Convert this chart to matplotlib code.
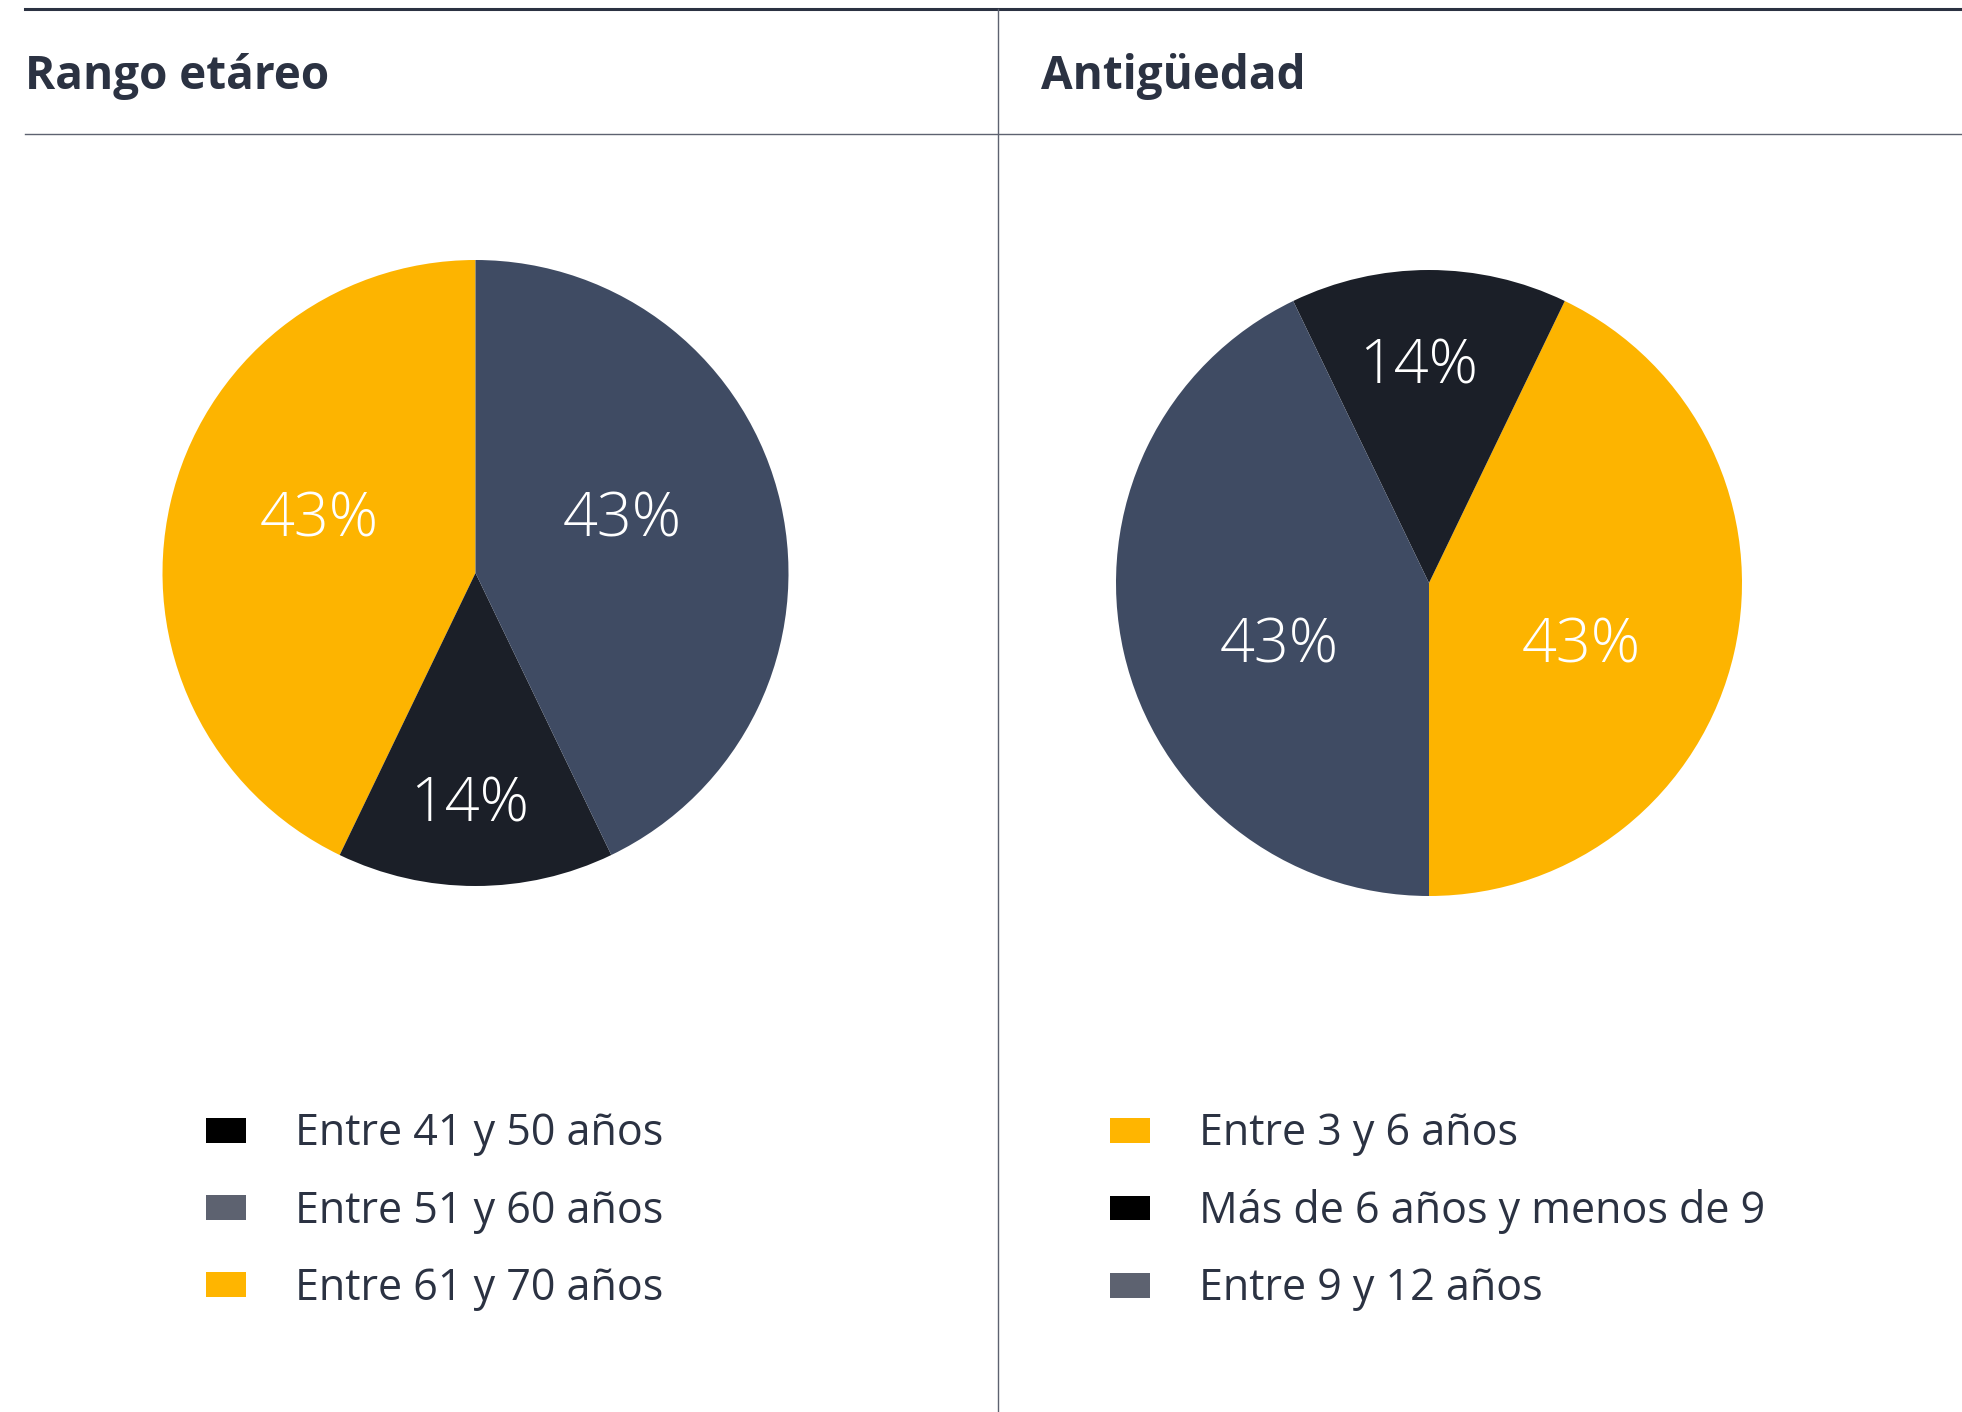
import matplotlib
matplotlib.use("Agg")
import matplotlib.pyplot as plt
from matplotlib.lines import Line2D
from matplotlib.patches import Patch

plt.rcParams['font.family'] = ['Open Sans', 'DejaVu Sans']

# region DATA
edad_labels = ["Entre 41 y 50 años", "Entre 51 y 60 años", "Entre 61 y 70 años"]
edad_counts = [1, 3, 3]
antig_labels = ["Entre 3 y 6 años", "Más de 6 años y menos de 9", "Entre 9 y 12 años"]
antig_counts = [3, 1, 3]
# endregion

# region STYLE
text_col = "#2b3242"
pie_cols = {"black": "#1b1f28", "gray": "#3f4b63", "yellow": "#fdb400"}
leg_cols = {"black": "#000000", "gray": "#5d6270", "yellow": "#ffb500"}
edad_keys = ["black", "gray", "yellow"]
antig_keys = ["yellow", "black", "gray"]
# endregion

W, H = 1962, 1412
fig = plt.figure(figsize=(W / 100, H / 100), dpi=100, facecolor="white")


def fx(px):
    return px / W


def fy(py):
    return 1 - py / H


# frame lines
fig.add_artist(Line2D([fx(25), 1], [fy(9), fy(9)], color=text_col, lw=2.2))
fig.add_artist(Line2D([fx(25), 1], [fy(134), fy(134)], color="#5d6270", lw=1.0))
fig.add_artist(Line2D([fx(998), fx(998)], [fy(9), 0], color="#5d6270", lw=1.0))

fig.text(fx(25), fy(77), "Rango etáreo", fontsize=33, fontweight="bold", color=text_col, va="center", ha="left")
fig.text(fx(1041), fy(77), "Antigüedad", fontsize=33, fontweight="bold", color=text_col, va="center", ha="left")


def draw_pie(cx, cy, r, counts, keys, order, startangle, label_pos):
    ax = fig.add_axes([fx(cx - r), fy(cy + r), 2 * r / W, 2 * r / H])
    vals = [counts[i] for i in order]
    cols = [pie_cols[keys[i]] for i in order]
    wedges, texts, autotexts = ax.pie(vals, colors=cols, startangle=startangle, counterclock=True,
                                      autopct="%.0f%%", radius=1,
                                      textprops=dict(color="white", fontsize=44, fontweight="light"))
    for t, (x, y) in zip(autotexts, label_pos):
        t.set_position((x, y))
        t.set_ha("center")
        t.set_va("center")
    ax.set_xlim(-1, 1)
    ax.set_ylim(-1, 1)
    ax.set_aspect("equal")
    ax.axis("off")
    return ax


# left pie: counterclockwise from 12 o'clock -> yellow, black, gray
draw_pie(475.5, 573, 313, edad_counts, edad_keys, [2, 0, 1], 90,
         [(-0.50, 0.168), (-0.02, -0.744), (0.468, 0.168)])
# right pie: counterclockwise from 6 o'clock -> yellow, black, gray
draw_pie(1429, 583, 313, antig_counts, antig_keys, [0, 1, 2], -90,
         [(0.488, -0.204), (-0.032, 0.688), (-0.48, -0.204)])


def draw_legend(x, y, labels, keys):
    handles = [Patch(facecolor=leg_cols[k], edgecolor="none") for k in keys]
    fig.legend(handles, labels, loc="upper left", bbox_to_anchor=(fx(x), fy(y)),
               frameon=False, fontsize=31, handlelength=0.93, handleheight=0.51,
               handletextpad=1.14, labelspacing=0.76, labelcolor=text_col,
               borderaxespad=0, borderpad=0)


draw_legend(206, 1112, edad_labels, edad_keys)
draw_legend(1110, 1112, antig_labels, antig_keys)

plt.savefig("out.png", dpi=100, facecolor="white")
